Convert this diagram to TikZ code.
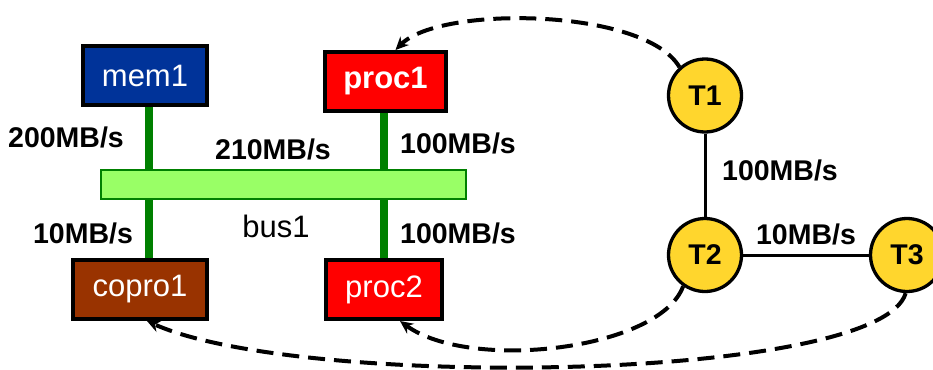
\documentclass[tikz,border=0pt]{standalone}
\usepackage{fontspec}
\setmainfont{Liberation Sans}
\usetikzlibrary{arrows.meta}
\definecolor{memblue}{RGB}{0,51,153}
\definecolor{procred}{RGB}{255,0,0}
\definecolor{coprobrown}{RGB}{153,51,0}
\definecolor{busfill}{RGB}{153,255,102}
\definecolor{busgreen}{RGB}{0,128,0}
\definecolor{taskyellow}{RGB}{255,214,45}
\tikzset{
  unit/.style={draw=black, line width=4pt, minimum height=59pt, inner sep=0pt,
    text=white, font=\fontsize{31}{36}\selectfont},
  busbar/.style={draw=busgreen, line width=2.7pt, fill=busfill, minimum width=365pt,
    minimum height=29pt, inner sep=0pt},
  link/.style={busgreen, line width=8pt},
  rate/.style={font=\fontsize{28.5}{33}\selectfont\bfseries, inner sep=0pt},
  task/.style={circle, draw=black, line width=3.3pt, fill=taskyellow, minimum size=73pt,
    inner sep=0pt, font=\fontsize{28.5}{33}\selectfont\bfseries},
  edge/.style={black, line width=3pt},
  mapto/.style={black, line width=4pt, dash pattern=on 17pt off 9pt,
    -{Stealth[length=13pt, width=12pt]}},
}
\begin{document}
\begin{tikzpicture}[x=1pt, y=-1pt]
  \useasboundingbox (0,0) rectangle (933,369);

  % architecture: units attached to the bus
  \node[unit, fill=memblue, minimum width=124pt] (mem1) at (145,75.5) {mem1};
  \node[unit, fill=procred, minimum width=121pt, font=\fontsize{31}{36}\selectfont\bfseries] (proc1) at (385.5,81.5) {proc1};
  \node[unit, fill=coprobrown, minimum width=134pt] (copro1) at (140,289.5) {copro1};
  \node[unit, fill=procred, minimum width=116pt] (proc2) at (384,289.5) {proc2};

  \coordinate (tapL) at (149,184.5);
  \coordinate (tapR) at (384,184.5);
  \draw[link] (mem1.south -| tapL) -- (tapL);
  \draw[link] (copro1.north -| tapL) -- (tapL);
  \draw[link] (proc1.south -| tapR) -- (tapR);
  \draw[link] (proc2.north -| tapR) -- (tapR);
  \node[busbar] (bus1) at (283.5,184.5) {};

  \node[rate] (r200) at (66,137) {200MB/s};
  \node[rate] (r210) at (273,149) {210MB/s};
  \node[rate] (r100a) at (458,143) {100MB/s};
  \node[rate] (r10a) at (83,233) {10MB/s};
  \node[rate] (r100b) at (458,233) {100MB/s};
  \node[font=\fontsize{31}{36}\selectfont, inner sep=0pt] (buslabel) at (276,226) {bus1};

  % task graph
  \node[task] (T1) at (705,95.5) {T1};
  \node[task] (T2) at (705,255) {T2};
  \node[task] (T3) at (907,255) {T3};
  \draw[edge] (T1) -- (T2);
  \draw[edge] (T2) -- (T3);
  \node[rate] (r100c) at (780,170) {100MB/s};
  \node[rate] (r10b) at (806,234) {10MB/s};

  % mapping of tasks onto units
  \draw[mapto] (T1.132) .. controls (645,8) and (440,5) .. ([xshift=10pt]proc1.north);
  \draw[mapto] (T2.235) .. controls (660,350) and (470,372) .. ([xshift=16pt]proc2.south);
  \draw[mapto] (T3.268) .. controls (880,382) and (300,390) .. ([xshift=7pt]copro1.south);
\end{tikzpicture}
\end{document}
